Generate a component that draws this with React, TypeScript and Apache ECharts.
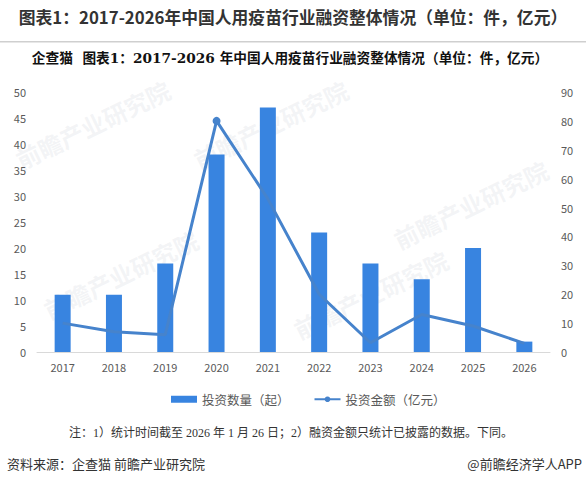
import React, { useEffect, useRef } from "react";
import * as echarts from "echarts";

const years = ["2017", "2018", "2019", "2020", "2021", "2022", "2023", "2024", "2025", "2026"];
const dealCounts = [11, 11, 17, 38, 47, 23, 17, 14, 20, 2];
const dealAmounts = [10, 7, 6, 80, 53, 20, 3.2, 13, 9, 3];
const countName = "投资数量（起）";
const amountName = "投资金额（亿元）";
const mainTitle = "图表1：2017-2026年中国人用疫苗行业融资整体情况（单位：件，亿元）";
const subTitle = "企查猫  图表1：2017-2026 年中国人用疫苗行业融资整体情况（单位：件，亿元）";
const noteText = "注：1）统计时间截至 2026 年 1 月 26 日；2）融资金额只统计已披露的数据。下同。";
const sourceText = "资料来源：企查猫 前瞻产业研究院";
const brandText = "@前瞻经济学人APP";
const watermark = "前瞻产业研究院";

const FONT = "'Microsoft YaHei', 'Noto Sans CJK SC', 'Noto Sans', sans-serif";

export default function App() {
  const ref = useRef<HTMLDivElement>(null);
  useEffect(() => {
    document.body.style.margin = "0";
    if (!ref.current) return;
    const chart = echarts.init(ref.current, null, { renderer: "svg" });
    const peak = dealAmounts.indexOf(Math.max(...dealAmounts));
    const wm = (x: number, y: number) => ({
      type: "text",
      x,
      y,
      rotation: 0.45,
      silent: true,
      z: -10,
      style: {
        text: watermark,
        fill: "rgba(195,200,210,0.2)",
        font: `bold 24px ${FONT}`,
      },
    });
    chart.setOption({
      animation: false,
      backgroundColor: "#ffffff",
      textStyle: { fontFamily: FONT },
      grid: { left: 37, right: 36, top: 92, bottom: 132, containLabel: false },
      legend: {
        left: 166,
        top: 388,
        itemGap: 24,
        itemWidth: 26,
        itemHeight: 7,
        textStyle: { fontSize: 12.5, color: "#595959", fontFamily: FONT },
        data: [
          { name: countName, icon: "rect" },
          { name: amountName },
        ],
      },
      xAxis: {
        type: "category",
        data: years,
        axisLine: { lineStyle: { color: "#d9d9d9", width: 1 } },
        axisTick: { show: false },
        axisLabel: { color: "#595959", fontSize: 11, margin: 9 },
      },
      yAxis: [
        {
          type: "value",
          min: 0,
          max: 50,
          interval: 5,
          splitLine: { show: false },
          axisLine: { show: false },
          axisTick: { show: false },
          axisLabel: { color: "#595959", fontSize: 11, margin: 11 },
        },
        {
          type: "value",
          min: 0,
          max: 90,
          interval: 10,
          splitLine: { show: false },
          axisLine: { show: false },
          axisTick: { show: false },
          axisLabel: { color: "#595959", fontSize: 11, margin: 11 },
        },
      ],
      series: [
        {
          name: countName,
          type: "bar",
          yAxisIndex: 0,
          data: dealCounts,
          barWidth: 16,
          itemStyle: { color: "#3884e0" },
        },
        {
          name: amountName,
          type: "line",
          yAxisIndex: 1,
          data: dealAmounts.map((v, i) => (i === peak ? v : { value: v, symbol: "none" })),
          symbol: "circle",
          symbolSize: 8,
          lineStyle: { color: "#4683cc", width: 3 },
          itemStyle: { color: "#4683cc" },
        },
      ],
      graphic: [
        wm(12, 150),
        wm(190, 150),
        wm(40, 300),
        wm(290, 320),
        wm(390, 230),
        {
          type: "text",
          x: 293,
          y: 17,
          style: {
            text: mainTitle,
            fill: "#333333",
            font: `bold 16.8px ${FONT}`,
            textAlign: "center",
            textVerticalAlign: "middle",
          },
        },
        {
          type: "rect",
          shape: { x: 0, y: 41, width: 586, height: 1.5 },
          style: { fill: "#cfcfcf" },
        },
        {
          type: "text",
          x: 290,
          y: 58,
          style: {
            text: subTitle,
            fill: "#111111",
            font: `bold 13.7px 'DejaVu Serif', 'Noto Sans CJK SC', serif`,
            textAlign: "center",
            textVerticalAlign: "middle",
          },
        },
        {
          type: "text",
          x: 291,
          y: 433,
          style: {
            text: noteText,
            fill: "#333333",
            font: `12px 'Liberation Serif', 'Noto Sans CJK SC', serif`,
            textAlign: "center",
            textVerticalAlign: "middle",
          },
        },
        {
          type: "text",
          x: 7,
          y: 463,
          style: {
            text: sourceText,
            fill: "#333333",
            font: `13px ${FONT}`,
            textAlign: "left",
            textVerticalAlign: "middle",
          },
        },
        {
          type: "text",
          x: 582,
          y: 463,
          style: {
            text: brandText,
            fill: "#333333",
            font: `13px ${FONT}`,
            textAlign: "right",
            textVerticalAlign: "middle",
          },
        },
      ],
    });
    return () => chart.dispose();
  }, []);
  return <div ref={ref} style={{ width: 586, height: 484 }} />;
}
